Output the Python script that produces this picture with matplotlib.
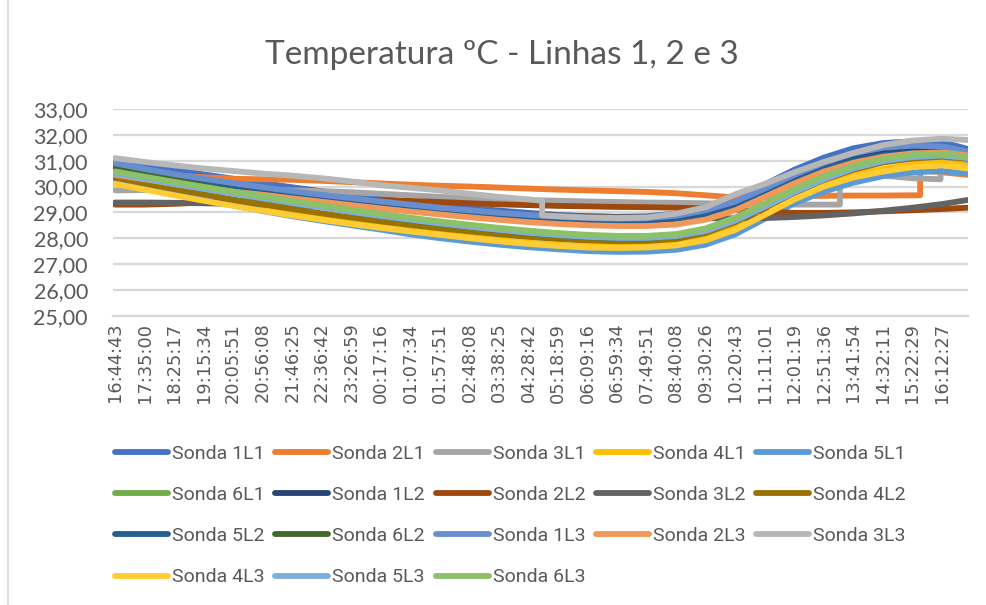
import matplotlib
matplotlib.use("Agg")
import matplotlib.pyplot as plt
from matplotlib.lines import Line2D

# ---------------- data ----------------
rotulos_tempo = ["16:44:43", "17:35:00", "18:25:17", "19:15:34", "20:05:51", "20:56:08",
                 "21:46:25", "22:36:42", "23:26:59", "00:17:16", "01:07:34", "01:57:51",
                 "02:48:08", "03:38:25", "04:28:42", "05:18:59", "06:09:16", "06:59:34",
                 "07:49:51", "08:40:08", "09:30:26", "10:20:43", "11:11:01", "12:01:19",
                 "12:51:36", "13:41:54", "14:32:11", "15:22:29", "16:12:27"]

passo_s = 3017                      # seconds between labelled samples
tempo_s = [i * passo_s for i in range(29)] + [87130]   # elapsed time of each sample

# series whose sensors jumped abruptly have their own time stamps
tempo_2L1 = tempo_s[:28] + [82240, 82240] + tempo_s[28:]
tempo_3L1 = tempo_s[:25] + [74040, 74040] + tempo_s[25:28] + [84325, 84325] + tempo_s[29:]
tempo_3L3 = tempo_s[:15] + [43626, 43626] + tempo_s[15:]

sonda_1L1 = [31.05, 30.85, 30.65, 30.47, 30.30, 30.13, 29.97, 29.82, 29.67, 29.53, 29.40, 29.28,
             29.17, 29.07, 28.98, 28.90, 28.85, 28.83, 28.85, 28.95, 29.18, 29.55, 30.08, 30.65,
             31.12, 31.48, 31.68, 31.75, 31.72, 31.45]
sonda_2L1 = [30.60, 30.50, 30.42, 30.36, 30.30, 30.28, 30.26, 30.22, 30.17, 30.12, 30.07, 30.03,
             30.00, 29.96, 29.92, 29.88, 29.85, 29.82, 29.79, 29.74, 29.66, 29.58, 29.60, 29.62,
             29.64, 29.65, 29.65, 29.66, 29.66, 30.62, 30.55, 30.45]
sonda_3L1 = [29.85, 29.86, 29.88, 29.90, 29.90, 29.88, 29.85, 29.82, 29.78, 29.72, 29.66, 29.60,
             29.55, 29.50, 29.47, 29.45, 29.42, 29.40, 29.38, 29.37, 29.35, 29.33, 29.32, 29.30,
             29.30, 29.30, 30.58, 30.52, 30.42, 30.32, 30.28, 30.92, 30.95]
sonda_4L1 = [30.25, 30.00, 29.76, 29.53, 29.32, 29.12, 28.93, 28.76, 28.60, 28.45, 28.30, 28.17,
             28.04, 27.92, 27.82, 27.74, 27.68, 27.66, 27.68, 27.77, 27.98, 28.40, 29.00, 29.60,
             30.10, 30.45, 30.68, 30.85, 30.92, 30.80]
sonda_5L1 = [30.30, 30.00, 29.75, 29.50, 29.27, 29.05, 28.85, 28.67, 28.50, 28.33, 28.15, 28.00,
             27.87, 27.75, 27.65, 27.57, 27.50, 27.47, 27.48, 27.55, 27.75, 28.15, 28.75, 29.35,
             29.80, 30.15, 30.40, 30.55, 30.60, 30.50]
sonda_6L1 = [30.62, 30.40, 30.19, 29.99, 29.79, 29.60, 29.42, 29.24, 29.07, 28.91, 28.76, 28.62,
             28.49, 28.37, 28.26, 28.17, 28.10, 28.06, 28.06, 28.13, 28.34, 28.76, 29.30, 29.86,
             30.36, 30.76, 31.04, 31.19, 31.24, 31.12]
sonda_1L2 = [30.80, 30.60, 30.40, 30.20, 30.02, 29.85, 29.70, 29.55, 29.42, 29.30, 29.20, 29.10,
             29.02, 28.95, 28.90, 28.86, 28.82, 28.78, 28.76, 28.82, 29.02, 29.38, 29.88, 30.40,
             30.85, 31.15, 31.35, 31.40, 31.38, 31.25]
sonda_2L2 = [29.30, 29.30, 29.33, 29.38, 29.42, 29.46, 29.50, 29.50, 29.50, 29.47, 29.44, 29.40,
             29.35, 29.31, 29.28, 29.25, 29.23, 29.21, 29.20, 29.18, 29.15, 29.10, 29.03, 28.98,
             28.98, 29.00, 29.04, 29.08, 29.13, 29.18]
sonda_3L2 = [29.38, 29.38, 29.37, 29.35, 29.33, 29.30, 29.27, 29.23, 29.19, 29.14, 29.09, 29.04,
             29.00, 28.96, 28.92, 28.88, 28.85, 28.82, 28.80, 28.78, 28.77, 28.77, 28.78, 28.82,
             28.88, 28.96, 29.06, 29.18, 29.32, 29.48]
sonda_4L2 = [30.35, 30.12, 29.90, 29.70, 29.50, 29.31, 29.13, 28.96, 28.80, 28.65, 28.51, 28.38,
             28.26, 28.15, 28.05, 27.97, 27.91, 27.88, 27.89, 27.97, 28.20, 28.62, 29.18, 29.75,
             30.25, 30.65, 30.93, 31.08, 31.15, 31.08]
sonda_5L2 = [30.70, 30.50, 30.30, 30.12, 29.95, 29.78, 29.62, 29.48, 29.35, 29.23, 29.12, 29.02,
             28.93, 28.85, 28.78, 28.72, 28.68, 28.66, 28.67, 28.75, 28.95, 29.30, 29.80, 30.30,
             30.72, 31.02, 31.22, 31.30, 31.30, 31.20]
sonda_6L2 = [30.75, 30.50, 30.26, 30.03, 29.81, 29.60, 29.40, 29.21, 29.03, 28.86, 28.70, 28.56,
             28.43, 28.31, 28.20, 28.11, 28.04, 28.00, 28.00, 28.08, 28.30, 28.72, 29.28, 29.85,
             30.36, 30.76, 31.05, 31.20, 31.26, 31.16]
sonda_1L3 = [30.90, 30.68, 30.48, 30.30, 30.13, 29.97, 29.82, 29.68, 29.55, 29.42, 29.30, 29.18,
             29.08, 28.98, 28.90, 28.83, 28.78, 28.75, 28.77, 28.87, 29.08, 29.42, 29.92, 30.45,
             30.92, 31.28, 31.50, 31.58, 31.55, 31.35]
sonda_2L3 = [30.45, 30.28, 30.10, 29.93, 29.80, 29.68, 29.54, 29.41, 29.28, 29.15, 29.03, 28.92,
             28.81, 28.71, 28.62, 28.55, 28.50, 28.47, 28.47, 28.53, 28.72, 29.08, 29.60, 30.12,
             30.58, 30.92, 31.15, 31.28, 31.32, 31.20]
sonda_3L3 = [31.10, 30.95, 30.82, 30.70, 30.60, 30.50, 30.42, 30.32, 30.20, 30.05, 29.95, 29.85,
             29.72, 29.60, 29.50, 29.45, 28.88, 28.85, 28.80, 28.78, 28.80, 28.95, 29.20, 29.70,
             30.10, 30.55, 30.95, 31.30, 31.60, 31.78, 31.85, 31.80]
sonda_4L3 = [30.10, 29.88, 29.66, 29.45, 29.25, 29.06, 28.88, 28.71, 28.55, 28.40, 28.26, 28.13,
             28.00, 27.88, 27.78, 27.70, 27.64, 27.62, 27.64, 27.72, 27.92, 28.32, 28.90, 29.50,
             30.00, 30.35, 30.58, 30.75, 30.82, 30.70]
sonda_5L3 = [30.50, 30.30, 30.10, 29.91, 29.72, 29.54, 29.36, 29.19, 29.02, 28.86, 28.71, 28.57,
             28.44, 28.32, 28.21, 28.12, 28.05, 28.01, 28.01, 28.08, 28.28, 28.68, 29.22, 29.78,
             30.28, 30.70, 30.98, 31.14, 31.20, 31.10]
sonda_6L3 = [30.58, 30.38, 30.18, 29.99, 29.80, 29.62, 29.44, 29.27, 29.10, 28.94, 28.79, 28.65,
             28.52, 28.40, 28.29, 28.20, 28.13, 28.09, 28.09, 28.16, 28.38, 28.80, 29.35, 29.90,
             30.40, 30.80, 31.07, 31.22, 31.27, 31.15]

nomes = ["Sonda 1L1", "Sonda 2L1", "Sonda 3L1", "Sonda 4L1", "Sonda 5L1", "Sonda 6L1",
         "Sonda 1L2", "Sonda 2L2", "Sonda 3L2", "Sonda 4L2", "Sonda 5L2", "Sonda 6L2",
         "Sonda 1L3", "Sonda 2L3", "Sonda 3L3", "Sonda 4L3", "Sonda 5L3", "Sonda 6L3"]
tempos = [tempo_s, tempo_2L1, tempo_3L1, tempo_s, tempo_s, tempo_s,
          tempo_s, tempo_s, tempo_s, tempo_s, tempo_s, tempo_s,
          tempo_s, tempo_s, tempo_3L3, tempo_s, tempo_s, tempo_s]
valores = [sonda_1L1, sonda_2L1, sonda_3L1, sonda_4L1, sonda_5L1, sonda_6L1,
           sonda_1L2, sonda_2L2, sonda_3L2, sonda_4L2, sonda_5L2, sonda_6L2,
           sonda_1L3, sonda_2L3, sonda_3L3, sonda_4L3, sonda_5L3, sonda_6L3]
cores = ["#4472C4", "#ED7D31", "#A5A5A5", "#FFC000", "#5B9BD5", "#70AD47",
         "#264478", "#9E480E", "#636363", "#997300", "#255E91", "#43682B",
         "#698ED0", "#F1975A", "#B7B7B7", "#FFCD33", "#7CAFDD", "#8CC168"]

# ---------------- figure ----------------
W, H = 986, 605
fig = plt.figure(figsize=(W / 100, H / 100), dpi=100)
fig.patch.set_facecolor("white")

L, R, T, B = 113, 968, 109, 315.7
ax = fig.add_axes([L / W, 1 - B / H, (R - L) / W, (B - T) / H])

for nome, t, v, c in zip(nomes, tempos, valores, cores):
    ax.plot(t, v, color=c, lw=4.2, label=nome, solid_joinstyle="round",
            solid_capstyle="round")

ax.set_ylim(25, 33)
ax.set_yticks(range(25, 34))
ax.set_yticklabels([f"{v},00" for v in range(25, 34)])
ax.set_xlim(-0.07 * passo_s, tempo_s[-1])
ax.set_xticks(tempo_s[:29])
ax.set_xticklabels(rotulos_tempo, rotation=90, family="DejaVu Sans", fontsize=12.8,
                   color="#595959")
for lab in ax.get_yticklabels():
    lab.set_family("Lato")
    lab.set_fontsize(15.5)
    lab.set_color("#595959")

ax.tick_params(axis="both", length=0)
ax.tick_params(axis="y", pad=18)
ax.tick_params(axis="x", pad=5)
ax.yaxis.grid(True, color="#D9D9D9", lw=1.6)
ax.set_axisbelow(True)
for s in ["top", "left", "right"]:
    ax.spines[s].set_visible(False)
ax.spines["bottom"].set_color("#D9D9D9")
ax.spines["bottom"].set_linewidth(1.6)

fig.text(502 / W, 1 - 55 / H, "Temperatura ºC - Linhas 1, 2 e 3", ha="center", va="center",
         fontsize=24, color="#595959", family="Lato")

# left chart border
fig.add_artist(Line2D([7.5 / W, 7.5 / W], [0, 1], color="#D9D9D9", lw=1.2))

# legend, row-major like the original (matplotlib fills columns first)
handles, labels = ax.get_legend_handles_labels()
ordem = [0, 5, 10, 15, 1, 6, 11, 16, 2, 7, 12, 17, 3, 8, 13, 4, 9, 14]
leg = fig.legend([handles[i] for i in ordem], [labels[i] for i in ordem], ncol=5,
                 loc="upper left", bbox_to_anchor=(115 / W, 1 - 445 / H),
                 frameon=False, borderpad=0, borderaxespad=0,
                 handlelength=2.73, handletextpad=0.2, columnspacing=0.55,
                 labelspacing=1.19,
                 prop={"family": "Roboto", "size": 14})
for txt in leg.get_texts():
    txt.set_color("#595959")

fig.savefig("out.png", dpi=100, facecolor="white")
